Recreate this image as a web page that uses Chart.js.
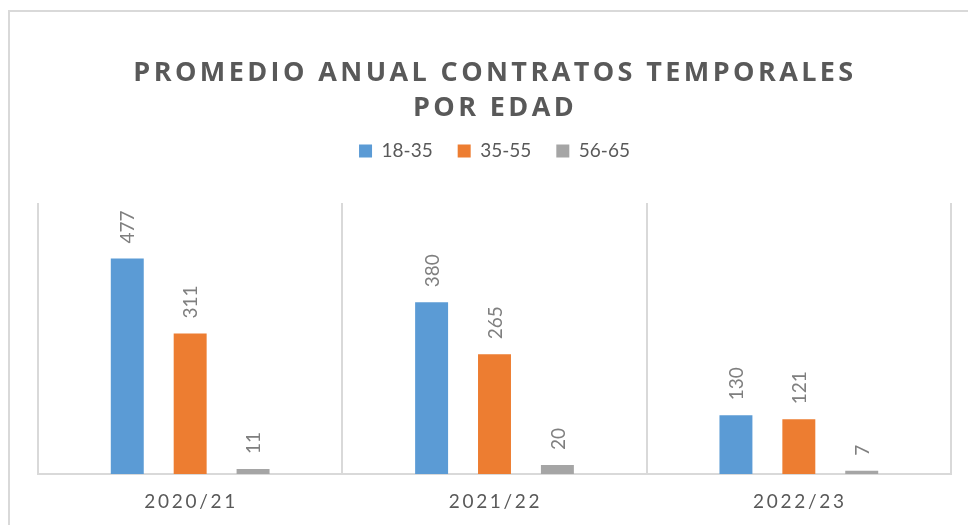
<!DOCTYPE html>
<html>
<head>
<meta charset="utf-8">
<script src="https://cdn.jsdelivr.net/npm/chart.js@4"></script>
<style>
  html, body { margin: 0; padding: 0; background: #fff; }
  #wrap { width: 968px; height: 525px; }
</style>
</head>
<body>
<div id="wrap"><canvas id="myChart" width="968" height="525"></canvas></div>
<script>
// data
const categories = ["2020/21", "2021/22", "2022/23"];
const seriesNames = ["18-35", "35-55", "56-65"];
const values1835 = [477, 380, 130];
const values3555 = [311, 265, 121];
const values5665 = [11, 20, 7];
const titleLines = ["PROMEDIO ANUAL CONTRATOS TEMPORALES", "POR EDAD"];

const colors = ["#5B9BD5", "#ED7D31", "#A5A5A5"];
const textGray = "#595959";
const lineGray = "#D9D9D9";

// frame + title
const framePlugin = {
  id: "frame",
  beforeDraw(chart) {
    const ctx = chart.ctx;
    ctx.save();
    ctx.fillStyle = "#fff";
    ctx.fillRect(0, 0, chart.width, chart.height);
    ctx.strokeStyle = lineGray;
    ctx.lineWidth = 2;
    ctx.strokeRect(9, 11, 1200, 800);
    ctx.restore();
  },
  afterDraw(chart) {
    const ctx = chart.ctx;
    ctx.save();
    ctx.font = 'bold 27px "Open Sans"';
    ctx.letterSpacing = "3.4px";
    ctx.fillStyle = textGray;
    ctx.textAlign = "center";
    ctx.textBaseline = "middle";
    titleLines.forEach((line, i) => {
      ctx.fillText(line, 495, 73 + i * 35);
    });
    ctx.restore();
  },
};

// category labels with letter spacing
const xLabels = {
  id: "xLabels",
  afterDraw(chart) {
    const ctx = chart.ctx;
    const xScale = chart.scales.x;
    ctx.save();
    ctx.font = '19px Lato';
    ctx.letterSpacing = "2.7px";
    ctx.fillStyle = textGray;
    ctx.textAlign = "center";
    ctx.textBaseline = "middle";
    categories.forEach((c, i) => {
      ctx.fillText(c, xScale.getPixelForTick(i) + 1, 502);
    });
    ctx.restore();
  },
};

// rotated value labels
const valueLabels = {
  id: "valueLabels",
  afterDatasetsDraw(chart) {
    const ctx = chart.ctx;
    ctx.save();
    ctx.font = '19px Lato';
    ctx.fillStyle = "#7F7F7F";
    ctx.textAlign = "left";
    ctx.textBaseline = "middle";
    chart.data.datasets.forEach((ds, di) => {
      const meta = chart.getDatasetMeta(di);
      meta.data.forEach((bar, i) => {
        ctx.save();
        ctx.translate(bar.x + 1, bar.y - 15);
        ctx.rotate(-Math.PI / 2);
        ctx.fillText(String(ds.data[i]), 0, 0);
        ctx.restore();
      });
    });
    ctx.restore();
  },
};

const myChart = new Chart("myChart", {
  type: "bar",
  data: {
    labels: categories,
    datasets: [
      { label: seriesNames[0], data: values1835, backgroundColor: colors[0] },
      { label: seriesNames[1], data: values3555, backgroundColor: colors[1] },
      { label: seriesNames[2], data: values5665, backgroundColor: colors[2] },
    ],
  },
  options: {
    responsive: false,
    animation: false,
    devicePixelRatio: 1,
    categoryPercentage: 0.62,
    barPercentage: 0.524,
    layout: {
      padding: { left: 38, right: 17, top: 116.5, bottom: 51 },
    },
    scales: {
      x: {
        grid: {
          offset: true,
          color: lineGray,
          lineWidth: 2,
          drawTicks: false,
        },
        border: { color: lineGray, width: 2 },
        ticks: { display: false },
      },
      y: {
        display: false,
        min: 0,
        max: 600,
      },
    },
    plugins: {
      legend: {
        position: "top",
        labels: {
          boxWidth: 13,
          boxHeight: 13,
          padding: 25,
          color: textGray,
          font: { family: "Lato", size: 19 },
        },
      },
      // empty spacer between legend and plot
      subtitle: {
        display: true,
        text: "",
        weight: 500,
        padding: { top: 0, bottom: 16.5 },
        font: { size: 16, lineHeight: 1 },
      },
      tooltip: { enabled: false },
    },
  },
  plugins: [framePlugin, xLabels, valueLabels],
});
</script>
</body>
</html>
